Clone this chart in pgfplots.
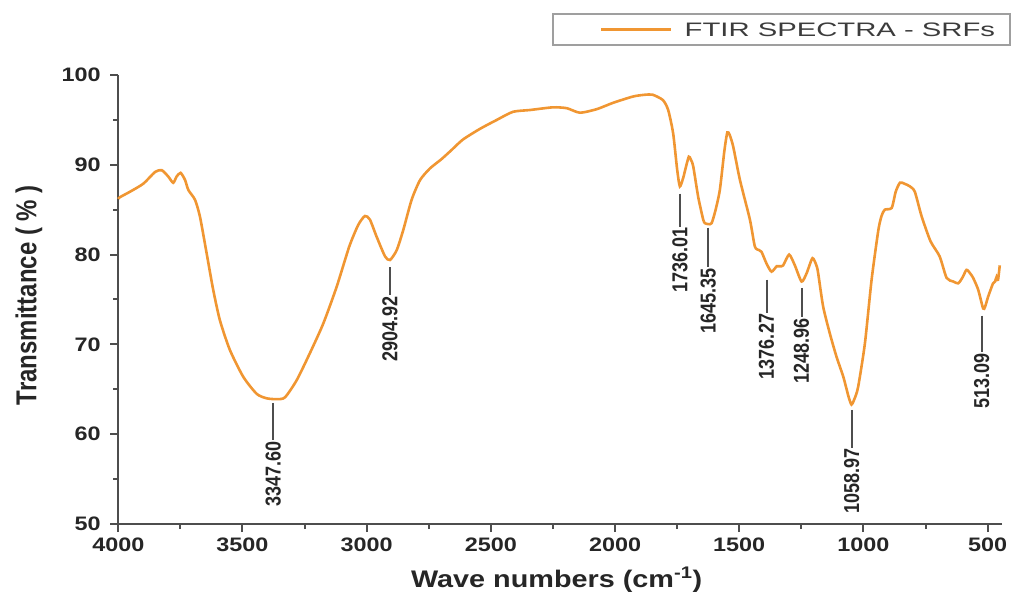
\documentclass[border=0pt]{standalone}
\usepackage{pgfplots}
\pgfplotsset{compat=1.18}
\usepackage{graphicx}
\usepackage{fontspec}
\setmainfont{Liberation Sans}
\newfontfamily\widefont[FakeStretch=1.2]{Liberation Sans}
\newfontfamily\legfont[FakeStretch=1.5]{Liberation Sans}

\definecolor{ftir}{RGB}{240,150,50}
\definecolor{axisgray}{RGB}{78,78,78}
\definecolor{txt}{RGB}{38,38,38}

\pgfplotstableread{
wn T
4000 86.2
3993 86.4
3953 87.0
3899 87.9
3852 89.2
3825 89.4
3799 88.7
3779 88.0
3765 88.7
3749 89.1
3731 88.3
3718 87.2
3691 86.1
3671 84.2
3644 80.1
3618 76.1
3591 72.7
3551 69.4
3497 66.4
3443 64.5
3403 64.0
3362 63.9
3329 64.1
3282 66.0
3229 69.0
3175 72.3
3121 76.4
3070 80.9
3034 83.3
3007 84.3
2987 83.9
2960 82.0
2926 79.8
2906 79.4
2879 80.5
2853 82.7
2819 86.1
2785 88.3
2745 89.6
2700 90.6
2660 91.6
2613 92.8
2544 94.0
2476 95.0
2411 95.9
2343 96.1
2250 96.4
2194 96.3
2141 95.8
2073 96.2
2008 96.9
1928 97.6
1880 97.8
1848 97.8
1807 97.2
1786 96.1
1766 93.5
1750 89.5
1739 87.6
1725 88.6
1716 89.6
1703 90.9
1695 90.6
1685 89.8
1665 86.4
1645 83.9
1638 83.5
1625 83.4
1611 83.5
1595 85.0
1578 87.2
1560 91.5
1548 93.6
1538 93.3
1524 92.0
1497 88.3
1457 83.9
1437 80.9
1420 80.5
1410 80.3
1390 79.0
1370 78.1
1349 78.7
1336 78.7
1323 78.8
1299 80.0
1276 78.8
1249 77.0
1229 77.9
1205 79.6
1188 78.7
1182 77.9
1162 74.2
1135 71.2
1108 68.6
1081 66.4
1060 64.2
1048 63.3
1035 64.0
1021 65.3
994 70.1
967 77.2
940 82.7
927 84.3
914 85.0
886 85.2
870 87.0
853 88.0
835 87.9
813 87.6
793 87.0
766 84.3
730 81.5
693 79.8
665 77.4
638 77.0
618 76.8
600 77.5
585 78.3
570 77.9
558 77.4
538 76.1
518 74.0
510 74.2
498 75.3
478 76.8
470 77.0
464 77.5
458 77.2
451 78.8
}\spectrum

\pgfplotsset{
  peak/.style={forget plot, draw=axisgray, line width=2pt},
}
\tikzset{
  peaklabel/.style={pos=1, rotate=90, anchor=east, inner sep=0pt, text=txt,
    font=\bfseries\fontsize{18}{18}\selectfont},
}

\begin{document}
\begin{tikzpicture}[x=1pt,y=1pt]
\useasboundingbox (0,0) rectangle (1023,592);
\begin{axis}[
  at={(118.3pt,68pt)}, anchor=south west,
  scale only axis, width=883.7pt, height=449pt,
  xmin=442, xmax=4000, x dir=reverse,
  ymin=50, ymax=100,
  clip=false,
  axis x line*=bottom, axis y line*=left,
  axis line style={axisgray, line width=2pt},
  xtick={500,1000,...,4000}, minor xtick={750,1250,...,3750},
  ytick={50,60,...,100}, minor ytick={55,65,...,95},
  tick align=outside,
  major tick length=8pt, minor tick length=5pt,
  every tick/.style={axisgray, line width=2pt},
  minor tick style={axisgray, line width=2pt},
  scaled x ticks=false,
  /pgf/number format/1000 sep={},
  /pgf/number format/assume math mode=true,
  tick label style={font=\widefont\bfseries\fontsize{19.5}{20}\selectfont, text=txt},
  yticklabel style={xshift=-6pt},
  xticklabel style={yshift=-2pt},
  xlabel={Wave numbers (cm\textsuperscript{-1})},
  xlabel style={at={(axis description cs:0.496,-0.1425)}, anchor=base,
    font=\widefont\bfseries\fontsize{24}{24}\selectfont, text=txt},
  ylabel={\scalebox{1}[1.2]{Transmittance ( \% )}},
  ylabel style={at={(axis description cs:-0.101,0.51)}, anchor=center,
    font=\bfseries\fontsize{24}{24}\selectfont, text=txt},
  legend style={at={(axis description cs:0.491,1.138)}, anchor=north west,
    draw=gray!75, line width=1.5pt, fill=white,
    inner xsep=15pt, inner ysep=8.5pt,
    font=\legfont\fontsize{19.5}{20}\selectfont, text=txt!90,
    nodes={inner sep=0pt, text height=14pt, text depth=0pt}},
  legend image code/.code={\path (-32pt,0pt); \draw[#1, line width=3pt] (0pt,0pt) -- (70pt,0pt);},
]
\addplot[ftir, line width=2.6pt, smooth, tension=0.4] table[x=wn, y=T] {\spectrum};
\addlegendentry{\hspace{12pt}FTIR SPECTRA - SRFs}

\addplot[peak] coordinates {(3376,63.5) (3376,59.3)} node[peaklabel] {\scalebox{1}[1.2]{3347.60}};
\addplot[peak] coordinates {(2906,78.6) (2906,75.5)} node[peaklabel] {\scalebox{1}[1.2]{2904.92}};
\addplot[peak] coordinates {(1739,86.8) (1739,83.1)} node[peaklabel] {\scalebox{1}[1.2]{1736.01}};
\addplot[peak] coordinates {(1625,83.0) (1625,78.6)} node[peaklabel] {\scalebox{1}[1.2]{1645.35}};
\addplot[peak] coordinates {(1390,77.2) (1390,73.5)} node[peaklabel] {\scalebox{1}[1.2]{1376.27}};
\addplot[peak] coordinates {(1249,76.3) (1249,73.0)} node[peaklabel] {\scalebox{1}[1.2]{1248.96}};
\addplot[peak] coordinates {(1047,62.7) (1047,58.5)} node[peaklabel] {\scalebox{1}[1.2]{1058.97}};
\addplot[peak] coordinates {(524,73.2) (524,69.1)} node[peaklabel] {\scalebox{1}[1.2]{513.09}};
\end{axis}
\end{tikzpicture}
\end{document}
